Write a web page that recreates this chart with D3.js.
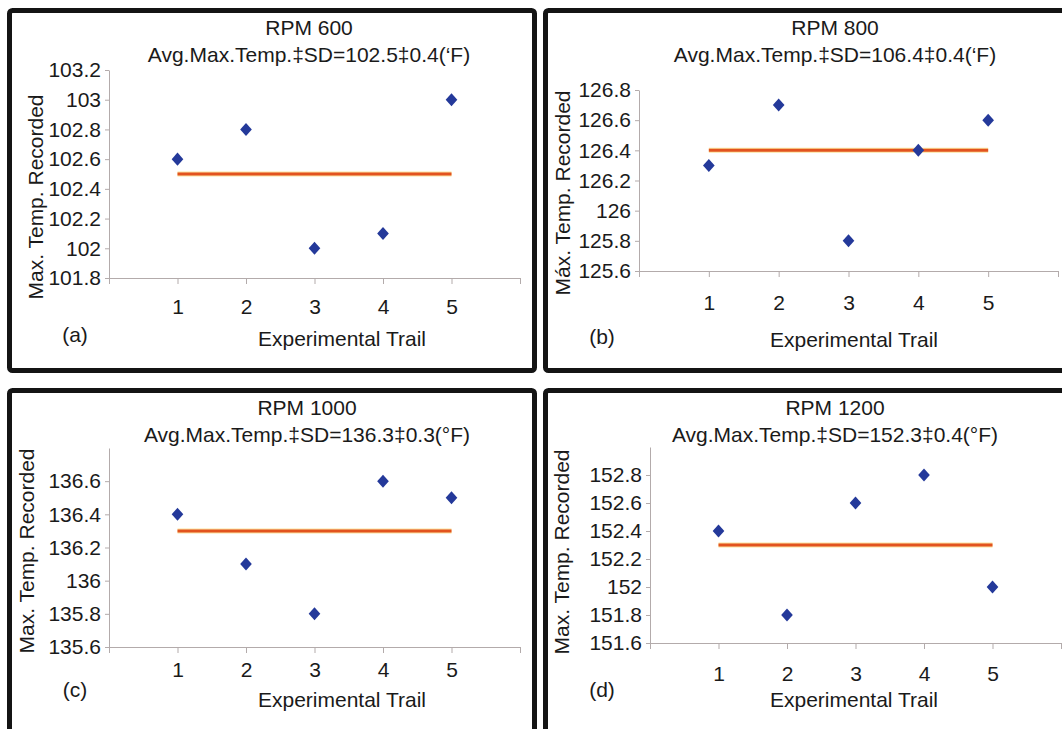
<!DOCTYPE html>
<html>
<head>
<meta charset="utf-8">
<script src="https://cdn.jsdelivr.net/npm/d3@7"></script>
<style>
  body { margin: 0; background: #fff; }
  svg { display: block; font-family: 'Liberation Sans', Arial, sans-serif; }
  .axis path, .axis line { stroke: #b3abab; }
  .axis text { fill: #1a1a1a; font-size: 21px; }
  .lbl { fill: #1a1a1a; font-size: 21px; }
</style>
</head>
<body>
<svg id="chart" width="1062" height="729"></svg>
<script>
// Experimental trials on the x axis
const trials = [1, 2, 3, 4, 5]
const xTicks = [0, 1, 2, 3, 4, 5, 6]

// Max. temperature recorded for each trial, one array per RPM
const temps600 = [102.6, 102.8, 102.0, 102.1, 103.0]
const temps800 = [126.3, 126.7, 125.8, 126.4, 126.6]
const temps1000 = [136.4, 136.1, 135.8, 136.6, 136.5]
const temps1200 = [152.4, 151.8, 152.6, 152.8, 152.0]

// Average line for each panel
const means = [102.5, 126.4, 136.3, 152.3]

// Titles and labels
const rpmTitles = ['RPM 600', 'RPM 800', 'RPM 1000', 'RPM 1200']
const subTitles = [
  'Avg.Max.Temp.‡SD=102.5‡0.4(‘F)',
  'Avg.Max.Temp.‡SD=106.4‡0.4(‘F)',
  'Avg.Max.Temp.‡SD=136.3‡0.3(°F)',
  'Avg.Max.Temp.‡SD=152.3‡0.4(°F)'
]
const panelTags = ['(a)', '(b)', '(c)', '(d)']
const yTitles = ['Max. Temp. Recorded', 'Máx. Temp. Recorded', 'Max. Temp. Recorded', 'Max. Temp. Recorded']
const xTitle = 'Experimental Trail'

// Y axis ranges and labelled ticks
const yDomains = [[101.8, 103.2], [125.6, 126.8], [135.6, 136.8], [151.6, 153.0]]
const yTicks600 = [101.8, 102, 102.2, 102.4, 102.6, 102.8, 103, 103.2]
const yTicks800 = [125.6, 125.8, 126, 126.2, 126.4, 126.6, 126.8]
const yTicks1000 = [135.6, 135.8, 136, 136.2, 136.4, 136.6]
const yTicks1200 = [151.6, 151.8, 152, 152.2, 152.4, 152.6, 152.8]

const series = [temps600, temps800, temps1000, temps1200]
const yTickSets = [yTicks600, yTicks800, yTicks1000, yTicks1200]

// Layout of each panel (pixels in the page)
const layout = [
  { frame: [9.5, 10.5, 525, 360], x0: 109, x1: 520, yTop: 70, yBot: 278, titleX: 309, titleY: 35, subY: 62,
    yLabX: 36, yLabY: 197, tagX: 75, tagY: 342, xLabX: 342, xLabY: 346, pad: 15 },
  { frame: [545.5, 10.5, 540, 360], x0: 639, x1: 1058, yTop: 90, yBot: 271, titleX: 835, titleY: 35, subY: 62,
    yLabX: 563, yLabY: 193, tagX: 602, tagY: 344, xLabX: 854, xLabY: 347, pad: 18 },
  { frame: [9.5, 390.5, 525, 360], x0: 109, x1: 520, yTop: 448, yBot: 647, titleX: 307, titleY: 415, subY: 442,
    yLabX: 27, yLabY: 551, tagX: 75, tagY: 697, xLabX: 342, xLabY: 707, pad: 9 },
  { frame: [545.5, 390.5, 540, 360], x0: 650, x1: 1061, yTop: 447, yBot: 643, titleX: 835, titleY: 415, subY: 442,
    yLabX: 562, yLabY: 552, tagX: 602, tagY: 697, xLabX: 854, xLabY: 707, pad: 17 }
]

const svg = d3.select('#chart')
const fmt = d => String(+d.toFixed(1))
const diamond = d3.symbol(d3.symbolSquare).size(68)

layout.forEach((L, i) => {
  const g = svg.append('g')

  // Black frame round the panel
  g.append('rect')
    .attr('x', L.frame[0]).attr('y', L.frame[1])
    .attr('width', L.frame[2]).attr('height', L.frame[3])
    .attr('rx', 3)
    .attr('fill', 'none')
    .attr('stroke', '#141414')
    .attr('stroke-width', 5)

  const x = d3.scaleLinear().domain([0, 6]).range([L.x0, L.x1])
  const y = d3.scaleLinear().domain(yDomains[i]).range([L.yBot, L.yTop])

  // Axes
  g.append('g')
    .attr('class', 'axis')
    .attr('transform', `translate(${L.x0},0)`)
    .call(d3.axisLeft(y).tickValues(yTickSets[i]).tickFormat(fmt).tickSize(4).tickPadding(4).tickSizeOuter(0))

  g.append('g')
    .attr('class', 'axis')
    .attr('transform', `translate(0,${L.yBot})`)
    .call(d3.axisBottom(x).tickValues(xTicks)
      .tickFormat(d => (d >= 1 && d <= 5 ? d : ''))
      .tickSize(6).tickPadding(L.pad).tickSizeOuter(0))

  // Average line
  g.append('line')
    .attr('x1', x(trials[0])).attr('x2', x(trials[trials.length - 1]))
    .attr('y1', y(means[i])).attr('y2', y(means[i]))
    .attr('stroke', '#fbe3a0')
    .attr('stroke-width', 5)
  g.append('line')
    .attr('x1', x(trials[0])).attr('x2', x(trials[trials.length - 1]))
    .attr('y1', y(means[i])).attr('y2', y(means[i]))
    .attr('stroke', '#e2531f')
    .attr('stroke-width', 3)

  // Data points as blue diamonds
  g.selectAll('.pt')
    .data(series[i])
    .join('path')
    .attr('class', 'pt')
    .attr('d', diamond)
    .attr('transform', (d, k) => `translate(${x(trials[k])},${y(d)}) scale(1,1.12) rotate(45)`)
    .attr('fill', '#24399a')

  // Texts
  g.append('text').attr('class', 'lbl')
    .attr('x', L.titleX).attr('y', L.titleY)
    .attr('text-anchor', 'middle')
    .text(rpmTitles[i])
  g.append('text').attr('class', 'lbl')
    .attr('x', L.titleX).attr('y', L.subY)
    .attr('text-anchor', 'middle')
    .text(subTitles[i])
  g.append('text').attr('class', 'lbl')
    .attr('transform', `translate(${L.yLabX},${L.yLabY}) rotate(-90)`)
    .attr('text-anchor', 'middle')
    .attr('dy', '0.35em')
    .text(yTitles[i])
  g.append('text').attr('class', 'lbl')
    .attr('x', L.tagX).attr('y', L.tagY)
    .attr('text-anchor', 'middle')
    .text(panelTags[i])
  g.append('text').attr('class', 'lbl')
    .attr('x', L.xLabX).attr('y', L.xLabY)
    .attr('text-anchor', 'middle')
    .text(xTitle)
})
</script>
</body>
</html>
